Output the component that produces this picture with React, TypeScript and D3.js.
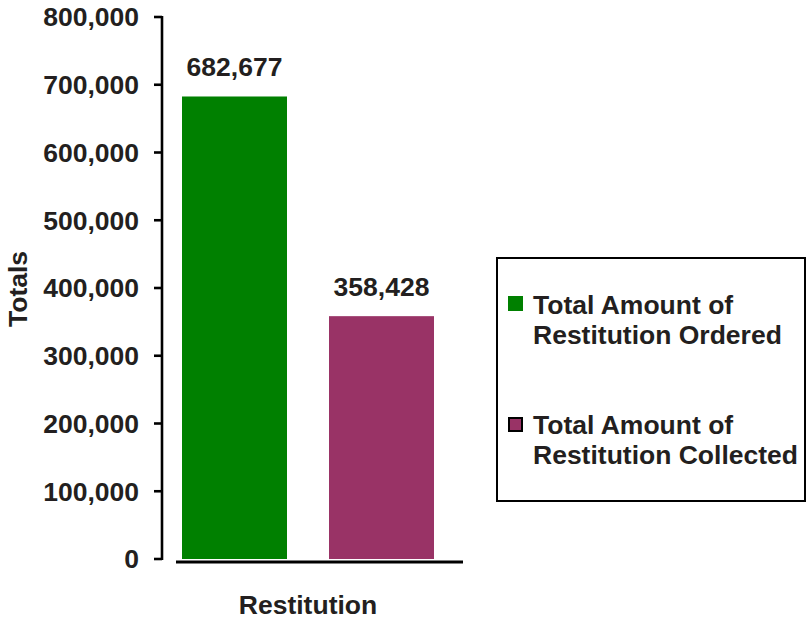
import React from "react";
import * as d3 from "d3";

const seriesNames = ["Total Amount of Restitution Ordered", "Total Amount of Restitution Collected"];
const legendLines = [["Total Amount of", "Restitution Ordered"], ["Total Amount of", "Restitution Collected"]];
const values = [682677, 358428];
const colors = ["#008000", "#993366"];
const yTicks = [0, 100000, 200000, 300000, 400000, 500000, 600000, 700000, 800000];
const categoryLabel = "Restitution";
const yTitle = "Totals";

const W = 806;
const H = 620;
const TEXT = "#231f20";
const FONT = "'Liberation Sans', Arial, sans-serif";
const FS = 26.5;

export default function App() {
  const y = d3.scaleLinear().domain([0, 800000]).range([559, 17]);
  const x = d3.scaleBand<string>().domain(seriesNames).range([182, 434]).paddingInner(42 / 147).paddingOuter(0);
  const fmt = d3.format(",");
  const axisX = 162;

  return (
    <svg width={W} height={H} style={{ position: "absolute", left: 0, top: 0, background: "#fff" }} fontFamily={FONT} fontWeight="bold">
      <rect x={0} y={0} width={W} height={H} fill="#fff" />
      {/* y axis */}
      <line x1={axisX} x2={axisX} y1={y(800000) - 1} y2={y(0) + 1} stroke="#000" strokeWidth={2.6} />
      {yTicks.map((t) => (
        <g key={t}>
          <line x1={axisX - 8} x2={axisX} y1={y(t)} y2={y(t)} stroke="#000" strokeWidth={2.6} />
          <text x={139} y={y(t)} dy="0.35em" textAnchor="end" fontSize={FS} fill={TEXT}>
            {fmt(t)}
          </text>
        </g>
      ))}
      {/* bars */}
      {seriesNames.map((s, i) => (
        <g key={s}>
          <rect x={x(s)} y={y(values[i])} width={x.bandwidth()} height={y(0) - y(values[i])} fill={colors[i]} />
          <text x={(x(s) as number) + x.bandwidth() / 2} y={y(values[i]) - 20} textAnchor="middle" fontSize={FS} fill={TEXT}>
            {fmt(values[i])}
          </text>
        </g>
      ))}
      {/* x axis */}
      <line x1={176} x2={463} y1={562} y2={562} stroke="#000" strokeWidth={2.8} />
      <text x={308} y={614} textAnchor="middle" fontSize={FS} fill={TEXT}>
        {categoryLabel}
      </text>
      <text transform={`translate(26.5,289) rotate(-90)`} textAnchor="middle" fontSize={FS} fill={TEXT}>
        {yTitle}
      </text>
      {/* legend */}
      <rect x={497} y={258} width={308} height={243} fill="#fff" stroke="#000" strokeWidth={2} />
      {seriesNames.map((s, i) => {
        const top = i === 0 ? 296 : 417;
        const base = i === 0 ? 314 : 434;
        return (
          <g key={s}>
            <rect
              x={i === 0 ? 508 : 509}
              y={i === 0 ? top : top + 1}
              width={i === 0 ? 15 : 13}
              height={i === 0 ? 15 : 13}
              fill={colors[i]}
              stroke={i === 0 ? "none" : "#000"}
              strokeWidth={2}
            />
            <text x={533} y={base} fontSize={FS} fill={TEXT}>
              {legendLines[i][0]}
            </text>
            <text x={533} y={base + 29.5} fontSize={FS} fill={TEXT}>
              {legendLines[i][1]}
            </text>
          </g>
        );
      })}
    </svg>
  );
}
